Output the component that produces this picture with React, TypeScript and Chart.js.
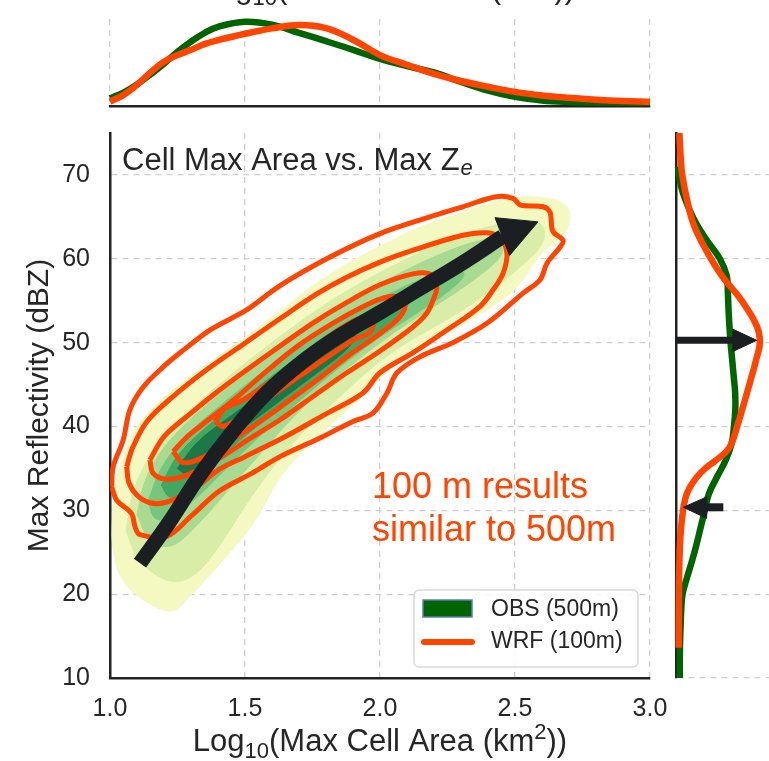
import React, { useEffect, useRef } from 'react';
import { Chart, registerables } from 'chart.js';

Chart.register(...registerables);

const FONT = "'Liberation Sans', Arial, Helvetica, sans-serif";
const INK = '#262626';
const AXIS_COLOR = '#222222';
const GRID_COLOR = '#cfcfcf';
const WRF_COLOR = '#ff4500';
const OBS_COLOR = '#006400';
const OBS_EDGE = '#5b7fb5';
const ARROW_COLOR = '#1c1f22';

// x label pieces: [text, role] where role is 'n' normal, 'sub' subscript, 'sup' superscript
const X_TITLE_PARTS = [['Log', 'n'], ['10', 'sub'], ['(Max Cell Area (km', 'n'], ['2', 'sup'], ['))', 'n']];
const Y_TITLE = 'Max Reflectivity (dBZ)';
const PANEL_TITLE = 'Cell Max Area vs. Max Z';
const PANEL_TITLE_SUB = 'e';
const NOTE_LINES = ['100 m results', 'similar to 500m'];
const NOTE_AT = [1.97, 31.5];
const LEGEND_LABELS = ['OBS (500m)', 'WRF (100m)'];

const X_MIN = 1;
const X_MAX = 3;
const Y_MIN = 10;
const Y_MAX = 75;
const xTicks = [1.0, 1.5, 2.0, 2.5, 3.0];
const yTicks = [10, 20, 30, 40, 50, 60, 70];

// ---- top marginal (Log10 area density) ----
const topGridX = [1.0, 1.05, 1.1, 1.15, 1.2, 1.25, 1.3, 1.35, 1.4, 1.5, 1.6, 1.7, 1.8, 1.9, 2.0, 2.1, 2.2, 2.3, 2.4, 2.5, 2.6, 2.7, 2.8, 2.9, 3.0];
const obsTopDensity = [0.08, 0.14, 0.225, 0.33, 0.44, 0.565, 0.67, 0.76, 0.825, 0.878, 0.848, 0.762, 0.675, 0.585, 0.49, 0.415, 0.35, 0.25, 0.16, 0.095, 0.058, 0.042, 0.035, 0.033, 0.032];
const wrfTopDensity = [0.045, 0.115, 0.22, 0.35, 0.46, 0.53, 0.585, 0.645, 0.685, 0.752, 0.808, 0.843, 0.81, 0.69, 0.53, 0.43, 0.335, 0.26, 0.2, 0.147, 0.11, 0.085, 0.066, 0.053, 0.045];

// ---- right marginal (reflectivity density) ----
const wrfRightZ = [75, 72, 70, 67, 64, 61, 58, 55, 52, 50, 48, 46, 44, 42, 40, 38, 37, 36, 35, 34, 33, 32, 31, 30, 28, 26, 24, 22, 20, 17, 13.6];
const wrfRightDensity = [0.015, 0.03, 0.047, 0.1, 0.175, 0.31, 0.48, 0.7, 0.865, 0.9, 0.86, 0.81, 0.758, 0.705, 0.65, 0.59, 0.53, 0.42, 0.3, 0.21, 0.145, 0.098, 0.072, 0.055, 0.035, 0.022, 0.016, 0.012, 0.01, 0.008, 0.008];
const obsRightZ = [71, 70, 68, 66, 64, 62, 60, 58, 56, 54, 52, 50, 48, 46, 44, 42, 40, 38, 36, 34, 32, 30, 28, 26, 24, 22, 20, 18, 16, 14, 12, 10];
const obsRightDensity = [0.0, 0.01, 0.05, 0.12, 0.21, 0.33, 0.46, 0.535, 0.548, 0.555, 0.565, 0.578, 0.595, 0.612, 0.628, 0.63, 0.615, 0.59, 0.525, 0.43, 0.34, 0.295, 0.25, 0.205, 0.155, 0.1, 0.05, 0.035, 0.028, 0.022, 0.02, 0.02];

// ---- WRF (100 m) KDE contour lines: [log10 area, dBZ] ----
const wrfLevel1 = [[1.006, 32.8], [1.012, 35.2], [1.049, 38.4], [1.074, 42.0], [1.123, 44.7], [1.197, 47.1], [1.272, 49.1], [1.37, 51.5], [1.506, 53.9], [1.63, 56.8], [1.815, 60.2], [2.0, 63.0], [2.185, 65.0], [2.307, 66.2], [2.43, 67.4], [2.493, 67.2], [2.52, 66.4], [2.604, 66.2], [2.63, 65.5], [2.64, 63.3], [2.678, 62.2], [2.667, 61.4], [2.619, 59.5], [2.593, 57.5], [2.53, 55.9], [2.396, 52.3], [2.27, 50.0], [2.148, 48.3], [2.063, 46.4], [2.026, 44.0], [1.974, 41.6], [1.9, 40.6], [1.77, 38.5], [1.63, 36.4], [1.525, 34.4], [1.405, 32.3], [1.3, 29.3], [1.21, 26.9], [1.111, 27.1], [1.093, 28.0], [1.08, 29.6], [1.025, 31.2]];
const wrfLevel2 = [[1.062, 35.2], [1.083, 37.4], [1.137, 40.6], [1.231, 43.5], [1.364, 46.9], [1.498, 49.9], [1.632, 52.9], [1.766, 55.8], [1.877, 57.8], [2.0, 59.6], [2.12, 61.0], [2.307, 62.8], [2.395, 63.1], [2.444, 62.5], [2.47, 60.7], [2.456, 58.3], [2.419, 56.3], [2.37, 54.3], [2.248, 51.5], [2.123, 48.8], [2.0, 46.4], [1.937, 44.0], [1.8, 41.5], [1.65, 38.8], [1.5, 36.4], [1.4, 34.8], [1.33, 33.0], [1.27, 31.8], [1.2, 30.9], [1.148, 30.9], [1.1, 31.8], [1.07, 33.3]];
const wrfLevel3 = [[1.148, 36.0], [1.2, 38.8], [1.3, 41.6], [1.4, 44.2], [1.5, 46.6], [1.63, 49.6], [1.75, 52.3], [1.877, 54.8], [2.0, 56.9], [2.123, 58.2], [2.19, 58.1], [2.21, 56.6], [2.197, 55.1], [2.173, 53.5], [2.123, 51.9], [2.0, 49.0], [1.877, 46.4], [1.753, 43.6], [1.63, 40.8], [1.52, 38.6], [1.395, 36.0], [1.284, 34.2], [1.21, 33.7], [1.16, 34.4]];
const wrfLevel4 = [[1.234, 37.0], [1.28, 38.6], [1.333, 40.0], [1.456, 43.1], [1.58, 46.6], [1.7, 49.7], [1.82, 52.2], [1.92, 54.0], [2.0, 55.2], [2.06, 55.5], [2.093, 54.7], [2.074, 53.1], [2.0, 51.1], [1.877, 48.3], [1.753, 45.2], [1.63, 42.3], [1.52, 39.8], [1.42, 37.8], [1.33, 36.1], [1.27, 35.7]];
const wrfLevel5 = [[1.39, 40.6], [1.42, 42.0], [1.5, 43.3], [1.63, 46.2], [1.77, 49.8], [1.88, 52.2], [1.94, 53.0], [1.975, 52.4], [1.96, 51.2], [1.9, 50.3], [1.77, 47.5], [1.63, 44.4], [1.5, 41.5], [1.42, 40.0]];

// ---- OBS (500 m) filled KDE levels, light to dark ----
const obsLevel1 = [[1.01, 30.0], [1.02, 33.0], [1.05, 36.5], [1.1, 40.0], [1.2, 43.5], [1.35, 47.2], [1.5, 50.6], [1.63, 53.8], [1.77, 57.2], [1.9, 59.8], [2.0, 61.5], [2.15, 63.8], [2.3, 65.5], [2.45, 67.0], [2.55, 67.4], [2.65, 67.0], [2.7, 65.8], [2.69, 63.4], [2.6, 60.7], [2.5, 56.4], [2.37, 53.4], [2.23, 50.8], [2.1, 48.6], [2.007, 46.0], [1.9, 42.6], [1.766, 38.7], [1.632, 34.0], [1.538, 28.8], [1.431, 24.5], [1.297, 19.8], [1.231, 18.0], [1.124, 19.3], [1.043, 21.9], [1.01, 25.8]];
const obsLevel2 = [[1.06, 27.5], [1.08, 31.5], [1.13, 35.5], [1.22, 39.5], [1.35, 43.5], [1.5, 47.5], [1.65, 51.2], [1.8, 54.6], [1.95, 57.5], [2.1, 60.0], [2.25, 62.2], [2.4, 63.8], [2.52, 64.6], [2.6, 64.0], [2.6, 61.8], [2.5, 58.5], [2.38, 55.5], [2.24, 52.6], [2.1, 50.0], [1.97, 47.0], [1.85, 43.5], [1.72, 39.5], [1.6, 35.0], [1.5, 30.5], [1.42, 26.5], [1.33, 22.8], [1.25, 21.5], [1.17, 22.3], [1.1, 24.5]];
const obsLevel3 = [[1.1, 29.5], [1.13, 33.5], [1.2, 37.5], [1.32, 41.5], [1.47, 45.5], [1.62, 49.3], [1.78, 52.8], [1.93, 55.8], [2.08, 58.4], [2.22, 60.5], [2.35, 62.0], [2.44, 62.3], [2.45, 60.5], [2.36, 57.8], [2.22, 54.7], [2.08, 51.8], [1.94, 48.5], [1.8, 44.8], [1.67, 40.8], [1.55, 36.5], [1.44, 32.5], [1.33, 28.5], [1.23, 25.8], [1.15, 26.3]];
const obsLevel4 = [[1.14, 31.0], [1.19, 35.0], [1.28, 38.8], [1.42, 42.8], [1.57, 46.6], [1.72, 50.0], [1.87, 53.0], [2.02, 55.6], [2.17, 57.8], [2.28, 59.0], [2.31, 58.0], [2.24, 55.8], [2.12, 53.2], [1.98, 50.2], [1.84, 46.8], [1.7, 43.0], [1.56, 39.0], [1.44, 35.3], [1.33, 31.8], [1.23, 29.2], [1.17, 29.0]];
const obsLevel5 = [[1.19, 33.0], [1.25, 36.5], [1.36, 40.0], [1.5, 43.5], [1.65, 47.2], [1.8, 50.5], [1.95, 53.3], [2.05, 54.8], [2.09, 54.2], [2.02, 52.0], [1.9, 49.2], [1.76, 45.8], [1.62, 42.0], [1.48, 38.3], [1.36, 34.8], [1.27, 32.0], [1.22, 31.6]];
const obsLevel6 = [[1.25, 35.0], [1.32, 38.0], [1.45, 41.3], [1.58, 44.3], [1.72, 47.6], [1.85, 50.4], [1.91, 50.8], [1.87, 49.0], [1.75, 46.0], [1.61, 42.6], [1.47, 39.2], [1.36, 36.3], [1.29, 34.2]];
const obsLevelColors = ['#f3f9c1', '#d8eea8', '#a9da91', '#78c57c', '#43a760', '#1c7848'];

// ---- arrows ----
const trendShaft = [[1.111, 23.7], [1.22, 28.6], [1.333, 34.2], [1.46, 39.6], [1.58, 44.0], [1.72, 47.9], [1.85, 50.8], [2.0, 53.6], [2.15, 56.5], [2.3, 59.4], [2.454, 62.65]];
const trendHead = [[2.426, 64.9], [2.585, 64.4], [2.48, 60.4]];
const peakShaft = [[-0.03, 50.27], [0.62, 50.27]];
const peakHead = [[0.604, 51.6], [0.865, 50.27], [0.604, 48.95]];
const lowShaft = [[0.498, 30.36], [0.3, 30.36]];
const lowHead = [[0.315, 31.6], [0.058, 30.36], [0.315, 29.05]];

const pts = (pairs) => pairs.map(([x, y]) => ({ x, y }));
const loop = (pairs) => pts([...pairs, pairs[0]]);

const shapeDataset = (pairs, color, tension = 0.35) => ({
  data: loop(pairs),
  backgroundColor: color,
  borderColor: color,
  borderWidth: 1,
  fill: 'shape',
  pointRadius: 0,
  tension,
});
const contourDataset = (pairs) => ({
  data: loop(pairs),
  borderColor: WRF_COLOR,
  borderWidth: 5,
  fill: false,
  pointRadius: 0,
  tension: 0.35,
  borderJoinStyle: 'round',
});
const lineDataset = (data, color, width) => ({
  data,
  borderColor: color,
  borderWidth: width,
  fill: false,
  pointRadius: 0,
  tension: 0.4,
  clip: false,
  borderCapStyle: 'butt',
});

const setXTicks = (s) => { s.ticks = xTicks.map((v) => ({ value: v })); };
const setYTicks = (s) => { s.ticks = yTicks.map((v) => ({ value: v })); };

const baseOptions = {
  responsive: false,
  animation: false,
  devicePixelRatio: 1,
  events: [],
  plugins: { legend: { display: false }, tooltip: { enabled: false } },
};

const gridCfg = { color: GRID_COLOR, lineWidth: 1.3, drawTicks: false };
const dashedBorder = (display) => ({ display, color: AXIS_COLOR, width: 2.5, dash: [6, 5] });

// draws the x label with real sub/superscripts, centered at cx with baseline at by
function drawXTitle(ctx, cx, by) {
  const big = `31px ${FONT}`;
  const small = `22px ${FONT}`;
  const parts = X_TITLE_PARTS.map(([t, role]) => {
    ctx.font = role === 'n' ? big : small;
    return { t, role, w: ctx.measureText(t).width };
  });
  const total = parts.reduce((s, p) => s + p.w, 0);
  let x = cx - total / 2;
  ctx.save();
  ctx.fillStyle = INK;
  ctx.textAlign = 'left';
  ctx.textBaseline = 'alphabetic';
  parts.forEach((p) => {
    ctx.font = p.role === 'n' ? big : small;
    const dy = p.role === 'sub' ? 7 : p.role === 'sup' ? -12 : 0;
    ctx.fillText(p.t, x, by + dy);
    x += p.w;
  });
  ctx.restore();
}

const mainDecor = {
  id: 'mainDecor',
  afterDraw(chart) {
    const { ctx, chartArea: a, scales } = chart;
    const xs = scales.x;
    const ys = scales.y;
    drawXTitle(ctx, (a.left + a.right) / 2, a.bottom + 73);
    ctx.save();
    ctx.textAlign = 'left';
    ctx.textBaseline = 'alphabetic';
    // panel title
    ctx.fillStyle = INK;
    ctx.font = `31px ${FONT}`;
    const tx = a.left + 12;
    const ty = a.top + 37;
    ctx.fillText(PANEL_TITLE, tx, ty);
    const w = ctx.measureText(PANEL_TITLE).width;
    ctx.font = `italic 22px ${FONT}`;
    ctx.fillText(PANEL_TITLE_SUB, tx + w + 1, ty + 5);
    // annotation
    ctx.fillStyle = WRF_COLOR;
    ctx.font = `36px ${FONT}`;
    NOTE_LINES.forEach((line, i) => {
      ctx.fillText(line, xs.getPixelForValue(NOTE_AT[0]), ys.getPixelForValue(NOTE_AT[1]) + i * 43);
    });
    // legend
    const bw = 224;
    const bh = 77;
    const bx = a.right - 236;
    const by = a.bottom - 88;
    ctx.beginPath();
    ctx.roundRect(bx, by, bw, bh, 5);
    ctx.fillStyle = 'rgba(255,255,255,0.85)';
    ctx.fill();
    ctx.strokeStyle = '#d9d9d9';
    ctx.lineWidth = 1.5;
    ctx.stroke();
    ctx.fillStyle = OBS_COLOR;
    ctx.fillRect(bx + 9, by + 10, 49, 17);
    ctx.strokeStyle = OBS_EDGE;
    ctx.lineWidth = 1.5;
    ctx.strokeRect(bx + 9, by + 10, 49, 17);
    ctx.beginPath();
    ctx.moveTo(bx + 10, by + 52);
    ctx.lineTo(bx + 58, by + 52);
    ctx.strokeStyle = WRF_COLOR;
    ctx.lineWidth = 6;
    ctx.lineCap = 'round';
    ctx.stroke();
    ctx.fillStyle = INK;
    ctx.font = `23px ${FONT}`;
    ctx.textBaseline = 'middle';
    ctx.fillText(LEGEND_LABELS[0], bx + 77, by + 20);
    ctx.fillText(LEGEND_LABELS[1], bx + 77, by + 52);
    ctx.restore();
  },
};

const topDecor = {
  id: 'topDecor',
  afterDraw(chart) {
    const { ctx, chartArea: a } = chart;
    drawXTitle(ctx, (a.left + a.right) / 2 + 8, -2);
  },
};

function mainConfig() {
  const datasets = [
    shapeDataset(trendHead, ARROW_COLOR, 0),
    lineDataset(pts(trendShaft), ARROW_COLOR, 15),
    contourDataset(wrfLevel5),
    contourDataset(wrfLevel4),
    contourDataset(wrfLevel3),
    contourDataset(wrfLevel2),
    contourDataset(wrfLevel1),
    shapeDataset(obsLevel6, obsLevelColors[5]),
    shapeDataset(obsLevel5, obsLevelColors[4]),
    shapeDataset(obsLevel4, obsLevelColors[3]),
    shapeDataset(obsLevel3, obsLevelColors[2]),
    shapeDataset(obsLevel2, obsLevelColors[1]),
    shapeDataset(obsLevel1, obsLevelColors[0]),
  ];
  return {
    type: 'line',
    data: { datasets },
    options: {
      ...baseOptions,
      layout: { padding: { left: 0, right: 60, top: 13, bottom: 0 } },
      scales: {
        x: {
          type: 'linear',
          min: X_MIN,
          max: X_MAX,
          afterBuildTicks: setXTicks,
          afterFit: (s) => { s.height = 83; s.paddingLeft = 0; s.paddingRight = 0; },
          ticks: { callback: (v) => Number(v).toFixed(1), font: { size: 25 }, color: INK, padding: 16, maxRotation: 0, autoSkip: false },
          grid: gridCfg,
          border: dashedBorder(true),
        },
        y: {
          type: 'linear',
          min: Y_MIN,
          max: Y_MAX,
          afterBuildTicks: setYTicks,
          afterFit: (s) => { s.width = 110; s.paddingTop = 0; s.paddingBottom = 0; },
          ticks: { font: { size: 25 }, color: INK, padding: 20, autoSkip: false },
          grid: gridCfg,
          border: dashedBorder(true),
          title: { display: true, text: Y_TITLE, font: { size: 30 }, color: INK, padding: { top: 22, bottom: 0 } },
        },
      },
    },
    plugins: [mainDecor],
  };
}

function topConfig() {
  return {
    type: 'line',
    data: {
      datasets: [
        lineDataset(topGridX.map((x, i) => ({ x, y: wrfTopDensity[i] })), WRF_COLOR, 6.5),
        lineDataset(topGridX.map((x, i) => ({ x, y: obsTopDensity[i] })), OBS_COLOR, 6.5),
      ],
    },
    options: {
      ...baseOptions,
      layout: { padding: { left: 110, right: 119, top: 19, bottom: 14 } },
      scales: {
        x: {
          type: 'linear',
          min: X_MIN,
          max: X_MAX,
          afterBuildTicks: setXTicks,
          afterFit: (s) => { s.height = 0; s.paddingLeft = 0; s.paddingRight = 0; },
          ticks: { display: false },
          grid: gridCfg,
          border: dashedBorder(true),
        },
        y: { type: 'linear', min: 0, max: 0.906, display: false },
      },
    },
    plugins: [topDecor],
  };
}

function rightConfig() {
  return {
    type: 'line',
    data: {
      datasets: [
        shapeDataset(peakHead, ARROW_COLOR, 0),
        lineDataset(pts(peakShaft), ARROW_COLOR, 7),
        shapeDataset(lowHead, ARROW_COLOR, 0),
        lineDataset(pts(lowShaft), ARROW_COLOR, 8),
        lineDataset(wrfRightZ.map((z, i) => ({ x: wrfRightDensity[i], y: z })), WRF_COLOR, 6.5),
        lineDataset(obsRightZ.map((z, i) => ({ x: obsRightDensity[i], y: z })), OBS_COLOR, 6.5),
      ],
    },
    options: {
      ...baseOptions,
      layout: { padding: { left: 16, right: 0, top: 13, bottom: 83 } },
      scales: {
        x: { type: 'linear', min: -0.022, max: 1.0, display: false },
        y: {
          type: 'linear',
          min: Y_MIN,
          max: Y_MAX,
          afterBuildTicks: setYTicks,
          afterFit: (s) => { s.width = 0; s.paddingTop = 0; s.paddingBottom = 0; },
          ticks: { display: false },
          grid: gridCfg,
          border: dashedBorder(true),
        },
      },
    },
  };
}

export default function App() {
  const topRef = useRef(null);
  const mainRef = useRef(null);
  const rightRef = useRef(null);

  useEffect(() => {
    document.body.style.margin = '0';
    Chart.defaults.font.family = FONT;
    Chart.defaults.color = INK;
    const charts = [
      new Chart(topRef.current, topConfig()),
      new Chart(mainRef.current, mainConfig()),
      new Chart(rightRef.current, rightConfig()),
    ];
    return () => charts.forEach((c) => c.destroy());
  }, []);

  return (
    <div style={{ position: 'relative', width: 769, height: 761, overflow: 'hidden', background: '#ffffff' }}>
      <canvas ref={topRef} width={769} height={120} style={{ position: 'absolute', left: 0, top: 0 }} />
      <canvas ref={mainRef} width={710} height={641} style={{ position: 'absolute', left: 0, top: 120 }} />
      <canvas ref={rightRef} width={109} height={641} style={{ position: 'absolute', left: 660, top: 120 }} />
    </div>
  );
}
